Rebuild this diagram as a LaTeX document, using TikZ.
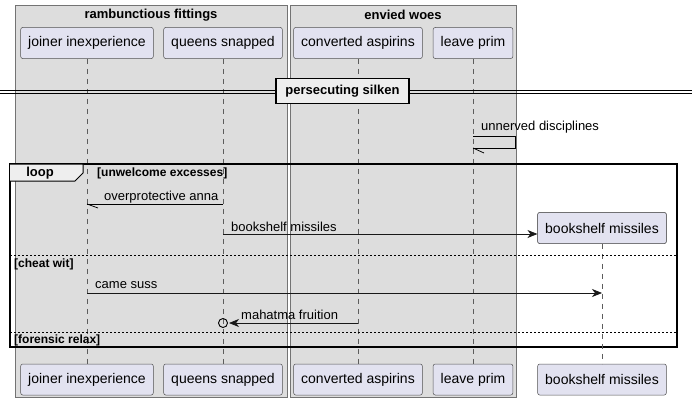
\documentclass[tikz,border=0pt]{standalone}
\usepackage{fontspec}
\setmainfont{Liberation Sans}
\usetikzlibrary{arrows.meta}

\definecolor{partfill}{HTML}{E2E2F0}
\definecolor{partline}{HTML}{181818}
\definecolor{boxfill}{HTML}{DDDDDD}
\definecolor{tabfill}{HTML}{EEEEEE}

\tikzset{
	part/.style={draw=partline!75, fill=partfill, rounded corners=2pt, line width=0.5pt, font=\fontsize{14}{16}\selectfont, minimum height=31pt, inner xsep=7.5pt, inner ysep=0pt},
	life/.style={draw=partline!70, line width=0.5pt, dash pattern=on 5pt off 5pt},
	msg/.style={line width=0.75pt, draw=partline, -{Stealth[length=10pt,width=8pt,inset=3pt]}},
	lbl/.style={anchor=west, font=\fontsize{13}{15}\selectfont, inner sep=0pt},
	guard/.style={anchor=west, font=\bfseries\fontsize{12}{14}\selectfont, inner sep=0pt},
	sep/.style={line width=0.6pt, dash pattern=on 2pt off 2pt},
}

\begin{document}
\begin{tikzpicture}[x=1pt, y=-1pt]

		\useasboundingbox (0,0) rectangle (692,404);

		\draw[fill=boxfill, draw=black!55, line width=0.5pt] (15,5) rectangle (287,397);
		\draw[fill=boxfill, draw=black!55, line width=0.5pt] (290,5) rectangle (516,397);
		\node[font=\bfseries\fontsize{13}{15}\selectfont] (gfit) at (151,15) {rambunctious fittings};
		\node[font=\bfseries\fontsize{13}{15}\selectfont] (gwoe) at (403,15) {envied woes};

		\node[part] (ji) at (87,43) {joiner inexperience};
		\node[part] (qs) at (223,43) {queens snapped};
		\node[part] (ca) at (358,43) {converted aspirins};
		\node[part] (lp) at (473,43) {leave prim};

		\node[part] (jiBot) at (87,379.5) {joiner inexperience};
		\node[part] (qsBot) at (223,379.5) {queens snapped};
		\node[part] (caBot) at (358,379.5) {converted aspirins};
		\node[part] (lpBot) at (473,379.5) {leave prim};
		\node[part] (bmBot) at (602,379.5) {bookshelf missiles};

		\coordinate (y1) at (0,136);
		\coordinate (y1b) at (0,148);
		\coordinate (r1) at (0,204);
		\coordinate (r2) at (0,234);
		\coordinate (r3) at (0,293);
		\coordinate (r4) at (0,323);

		\draw[life] (ji) -- (jiBot);
		\draw[life] (qs) -- (qsBot);
		\draw[life] (ca) -- (caBot);
		\draw[life] (lp) -- (lpBot);

		\draw[line width=1pt] (0,90.5) -- (692,90.5);
		\draw[line width=1pt] (0,93.5) -- (692,93.5);
		\node[draw, line width=1.5pt, fill=tabfill, minimum width=133pt, minimum height=25pt, inner sep=0pt, font=\bfseries\fontsize{13}{15}\selectfont] (div) at (342.5,91) {persecuting silken};

		\draw[line width=0.75pt] (lp |- y1) -- ++(42,0) |- (lp |- y1b);
		\draw[line width=0.75pt] (lp |- y1b) -- ++(11,5);
		\node[lbl] (m0) at (481,127.5) {unnerved disciplines};

		\draw[line width=1.5pt] (10,164) rectangle (677,347);
		\draw[line width=1pt, fill=tabfill] (10,164) -- (83,164) -- (83,173) -- (75,181) -- (10,181);
		\node[font=\bfseries\fontsize{13}{15}\selectfont] (lp1) at (40,173) {loop};
		\node[guard] (g1) at (97,173.5) {[unwelcome excesses]};

		\draw[line width=0.75pt] (qs |- r1) -- (ji |- r1);
		\draw[line width=0.75pt] (ji |- r1) -- ++(11,4);
		\node[lbl] (m1) at (104,197) {overprotective anna};

		\node[part] (bm) at (602,228) {bookshelf missiles};
		\draw[life] (bm) -- (bmBot);
		\node[part] at (602,228) {bookshelf missiles};
		\draw[msg] (qs |- r2) -- (bm.west |- r2);
		\node[lbl] (m2) at (231,227) {bookshelf missiles};

		\draw[sep] (10,255) -- (677,255);
		\node[guard] (g2) at (14,264) {[cheat wit]};

		\draw[msg] (ji |- r3) -- (bm |- r3);
		\node[lbl] (m3) at (95,285) {came suss};

		\draw[msg] (ca |- r4) -- ([xshift=6pt]qs |- r4);
		\draw[line width=0.9pt] (qs |- r4) circle (4.5);
		\node[lbl] (m4) at (241,315) {mahatma fruition};

		\draw[sep] (10,332) -- (677,332);
		\node[guard] (g3) at (14,340) {[forensic relax]};

	\end{tikzpicture}
\end{document}
